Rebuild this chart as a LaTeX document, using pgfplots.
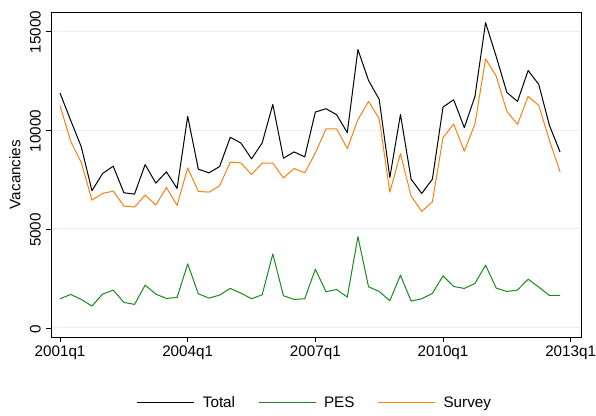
\documentclass[border=0pt]{standalone}
\usepackage{fontspec}
\setmainfont{Liberation Sans}
\usepackage{pgfplots}
\usepackage{pgfplotstable}
\pgfplotsset{compat=1.18}
\definecolor{pesgreen}{RGB}{26,138,26}
\definecolor{survorange}{RGB}{255,127,14}
\definecolor{gridc}{RGB}{232,240,242}
\pgfplotstableread{
t total pes survey
0 11863 1477 11226
1 10488 1695 9430
2 9145 1443 8357
3 6930 1107 6460
4 7803 1712 6796
5 8172 1913 6913
6 6830 1292 6158
7 6762 1191 6108
8 8256 2165 6712
9 7316 1712 6209
10 7887 1493 7098
11 7048 1544 6192
12 10689 3239 8088
13 8021 1728 6897
14 7836 1510 6863
15 8155 1661 7182
16 9632 1997 8373
17 9346 1762 8340
18 8541 1477 7752
19 9346 1678 8323
20 11293 3742 8323
21 8575 1628 7585
22 8893 1443 8054
23 8642 1477 7836
24 10907 2970 8843
25 11075 1829 10051
26 10773 1946 10051
27 9867 1561 9061
28 14062 4615 10521
29 12501 2081 11444
30 11545 1846 10571
31 7601 1376 6863
32 10790 2668 8810
33 7517 1359 6662
34 6796 1477 5890
35 7517 1745 6376
36 11159 2634 9615
37 11528 2098 10303
38 10118 1997 8927
39 11696 2249 10303
40 15421 3171 13592
41 13709 2014 12719
42 11897 1846 10941
43 11444 1913 10286
44 13005 2467 11696
45 12300 2064 11243
46 10236 1644 9481
47 8893 1644 7887
}\datatable
\begin{document}
\fontsize{15.3}{18}\selectfont
\begin{tikzpicture}
\path[use as bounding box] (0,0) rectangle (596bp,416bp);
\begin{axis}[
  at={(51bp,79bp)}, anchor=south west,
  scale only axis, width=530bp, height=325bp,
  xmin=-0.85, xmax=48.97, ymin=-455, ymax=15960,
  xtick={0,12,24,36,48},
  xticklabels={2001q1,2004q1,2007q1,2010q1,2013q1},
  ytick={0,5000,10000,15000},
  scaled y ticks=false,
  /pgf/number format/assume math mode=true,
  /pgf/number format/1000 sep={},
  tick label style={font=\fontsize{15.3}{18}\selectfont},
  yticklabel style={rotate=90, anchor=south, xshift=-1bp},
  xticklabel style={yshift=1bp},
  tick align=outside, xtick pos=bottom, ytick pos=left,
  major tick length=5bp,
  every tick/.style={black, line width=0.8bp},
  axis line style={black, line width=0.9bp},
  ymajorgrids, grid style={gridc, line width=1bp},
  ylabel={Vacancies},
  ylabel style={font=\fontsize{15.3}{18}\selectfont, at={(axis description cs:-0.0679,0.5)}, anchor=center},
  legend columns=3,
  legend style={draw=none, fill=none, at={(0.498,-0.203)}, anchor=center,
    font=\fontsize{15.3}{18}\selectfont,
    /tikz/every even column/.append style={column sep=21bp}},
  legend image code/.code={\draw[#1] (0bp,0bp) -- (57bp,0bp); \path (63bp,0bp);},
  every axis plot/.append style={line width=1bp, line join=round},
]
\addplot[black] table[x=t, y=total] {\datatable};
\addlegendentry{Total}
\addplot[pesgreen] table[x=t, y=pes] {\datatable};
\addlegendentry{PES}
\addplot[survorange] table[x=t, y=survey] {\datatable};
\addlegendentry{Survey}
\end{axis}
\end{tikzpicture}
\end{document}
